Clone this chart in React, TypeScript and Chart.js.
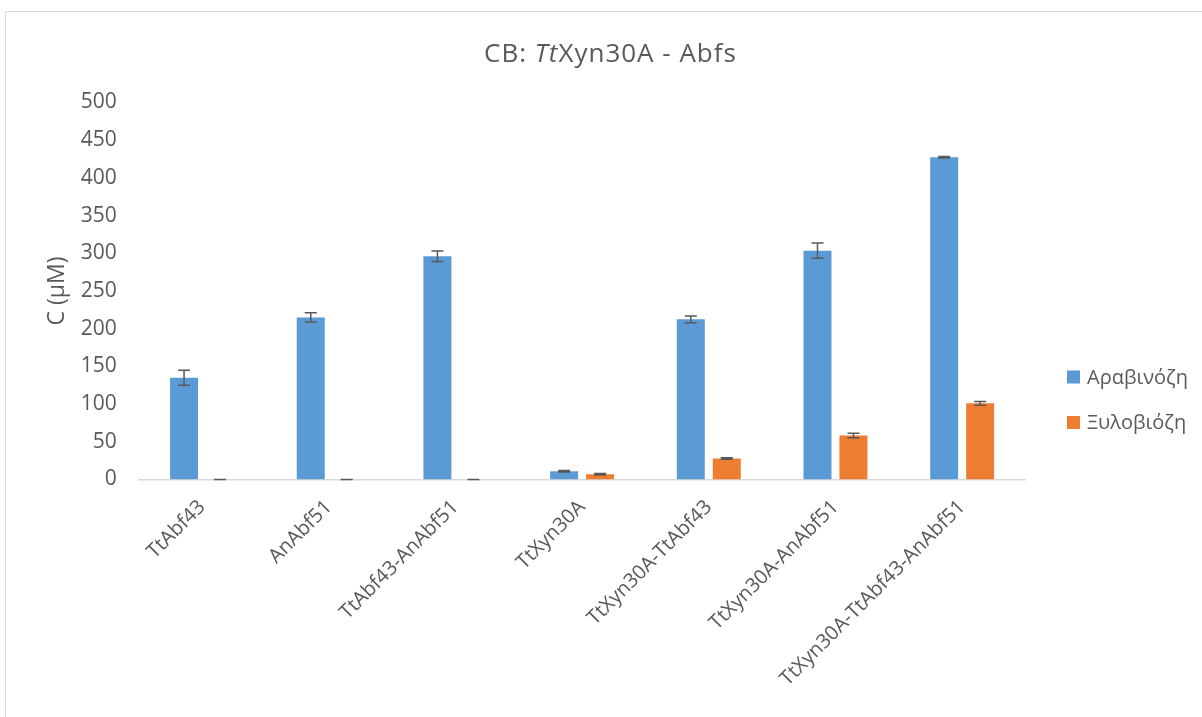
import React, { useEffect, useRef } from "react";
import { Chart, registerables } from "chart.js";

Chart.register(...registerables);

const categories = [
  "TtAbf43",
  "AnAbf51",
  "TtAbf43-AnAbf51",
  "TtXyn30A",
  "TtXyn30A-TtAbf43",
  "TtXyn30A-AnAbf51",
  "TtXyn30A-TtAbf43-AnAbf51",
];
const seriesNames = ["Αραβινόζη", "Ξυλοβιόζη"];
const arabinose = [135, 215, 296, 11, 212.5, 303.5, 427.5];
const arabinoseErr = [10, 6, 7, 1, 4.5, 10, 1];
const xylobiose = [0, 0, 0, 7, 28, 58.5, 101];
const xylobioseErr = [0, 0, 0, 1, 1, 3, 2.5];
const yTicks = [0, 50, 100, 150, 200, 250, 300, 350, 400, 450, 500];
const titleParts = [
  { text: "CB: ", italic: false },
  { text: "Tt", italic: true },
  { text: "Xyn30A - Abfs", italic: false },
];
const yTitle = "C (μM)";

const COLORS = ["#5B9BD5", "#ED7D31"];
const TEXT = "#595959";
const FONT = "'Open Sans', 'Noto Sans', sans-serif";

const errorBarPlugin = {
  id: "errorBars",
  afterDatasetsDraw(chart: any) {
    const errs = [arabinoseErr, xylobioseErr];
    const ctx = chart.ctx;
    const y = chart.scales.y;
    ctx.save();
    ctx.strokeStyle = "#595959";
    ctx.lineWidth = 1.5;
    chart.data.datasets.forEach((ds: any, di: number) => {
      const meta = chart.getDatasetMeta(di);
      meta.data.forEach((bar: any, i: number) => {
        const v = ds.data[i];
        const e = errs[di][i];
        const x = bar.x;
        const yt = y.getPixelForValue(v + e);
        const yb = y.getPixelForValue(Math.max(0, v - e));
        const cap = 6;
        ctx.beginPath();
        ctx.moveTo(x, yt);
        ctx.lineTo(x, yb);
        ctx.moveTo(x - cap, yt);
        ctx.lineTo(x + cap, yt);
        ctx.moveTo(x - cap, yb);
        ctx.lineTo(x + cap, yb);
        ctx.stroke();
      });
    });
    ctx.restore();
  },
};

const titleLegendPlugin = {
  id: "titleLegend",
  afterDraw(chart: any) {
    const ctx = chart.ctx;
    ctx.save();
    // Title with mixed italic
    const size = 26;
    const normal = `400 ${size}px ${FONT}`;
    const ital = `italic 400 ${size}px ${FONT}`;
    (ctx as any).letterSpacing = "1px";
    let total = 0;
    const widths = titleParts.map((p) => {
      ctx.font = p.italic ? ital : normal;
      const w = ctx.measureText(p.text).width;
      total += w;
      return w;
    });
    let x = 610.5 - total / 2;
    ctx.fillStyle = TEXT;
    ctx.textBaseline = "alphabetic";
    ctx.textAlign = "left";
    titleParts.forEach((p, i) => {
      ctx.font = p.italic ? ital : normal;
      ctx.fillText(p.text, x, 62);
      x += widths[i];
    });
    (ctx as any).letterSpacing = "0px";
    // Legend
    const ys = [377, 422.5];
    ctx.font = `400 20px ${FONT}`;
    ctx.textBaseline = "middle";
    chart.data.datasets.forEach((ds: any, i: number) => {
      ctx.fillStyle = COLORS[i];
      ctx.fillRect(1067, ys[i] - 6.5, 13, 13);
      ctx.fillStyle = TEXT;
      ctx.fillText(ds.label, 1087, ys[i] + 1);
    });
    ctx.restore();
  },
};

export default function App() {
  const ref = useRef<HTMLCanvasElement | null>(null);
  useEffect(() => {
    if (!ref.current) return;
    const chart = new Chart(ref.current, {
      type: "bar",
      data: {
        labels: categories,
        datasets: [
          {
            label: seriesNames[0],
            data: arabinose,
            backgroundColor: COLORS[0],
            barPercentage: 0.778,
            categoryPercentage: 0.568,
          },
          {
            label: seriesNames[1],
            data: xylobiose,
            backgroundColor: COLORS[1],
            barPercentage: 0.778,
            categoryPercentage: 0.568,
          },
        ],
      },
      options: {
        responsive: false,
        animation: false,
        layout: { padding: { left: 0, top: 102.5, right: 176.5, bottom: 0 } },
        plugins: {
          legend: { display: false },
          title: { display: false },
          tooltip: { enabled: false },
        },
        scales: {
          x: {
            grid: { display: false, drawTicks: false },
            border: { display: true, color: "#D9D9D9", width: 1.5 },
            ticks: {
              autoSkip: false,
              maxRotation: 45,
              minRotation: 45,
              padding: 16,
              color: TEXT,
              font: { family: FONT, size: 20 },
            },
            afterFit(scale: any) {
              scale.height = 717 - 479.5;
            },
          },
          y: {
            min: 0,
            max: 500,
            afterBuildTicks(scale: any) {
              scale.ticks = yTicks.map((v) => ({ value: v }));
            },
            grid: { display: false, drawTicks: false },
            border: { display: false },
            ticks: {
              padding: 22,
              color: TEXT,
              font: { family: FONT, size: 21 },
            },
            title: {
              display: true,
              text: yTitle,
              color: TEXT,
              font: { family: FONT, size: 23 },
              padding: { top: 44, bottom: 0 },
            },
            afterFit(scale: any) {
              scale.width = 138.7;
            },
          },
        },
      },
      plugins: [errorBarPlugin, titleLegendPlugin],
    });
    return () => chart.destroy();
  }, []);

  return (
    <div
      style={{
        position: "fixed",
        left: 0,
        top: 0,
        width: 1202,
        height: 717,
        overflow: "hidden",
        background: "#fff",
      }}
    >
      <div
        style={{
          position: "absolute",
          left: 5,
          top: 11,
          width: 1230,
          height: 740,
          border: "1.5px solid #D9D9D9",
        }}
      />
      <canvas
        ref={ref}
        width={1202}
        height={717}
        style={{ position: "absolute", left: 0, top: 0, width: 1202, height: 717 }}
      />
    </div>
  );
}
